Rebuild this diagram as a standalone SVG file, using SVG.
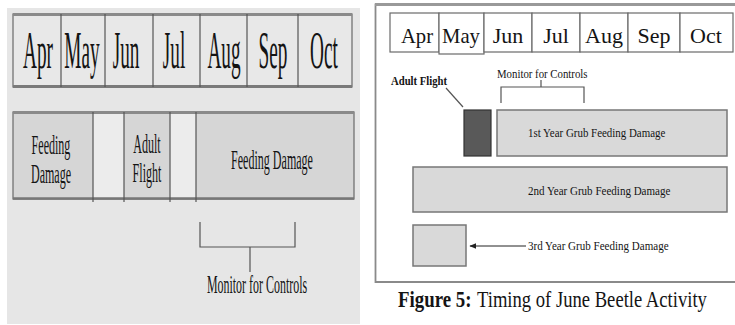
<svg xmlns="http://www.w3.org/2000/svg" width="735" height="325" viewBox="0 0 735 325">
<defs>
<style>
.serif{font-family:"Liberation Serif","Times New Roman",serif;fill:#141414}
.lm{font-size:52px;text-anchor:middle}
.lb{font-size:28px;text-anchor:middle}
.rm{font-size:22px;text-anchor:middle}
.sm{font-size:12px}
.cell{fill:#e8e8e8;stroke:#6a6a6a;stroke-width:1.2}
.rcell{fill:#ffffff;stroke:#6a6a6a;stroke-width:1.2}
.dark{fill:#d6d6d6}
.light{fill:#ececec}
.ln{stroke:#555;stroke-width:1.2;fill:none}
.box{fill:#d9d9d9;stroke:#777;stroke-width:1.5}
</style>
<marker id="ah" viewBox="0 0 10 10" refX="9" refY="5" markerWidth="7" markerHeight="7" orient="auto">
<path d="M0,1 L10,5 L0,9 z" fill="#222"/>
</marker>
</defs>
<rect x="0" y="0" width="735" height="325" fill="#ffffff"/>

<!-- Left panel -->
<g id="left-panel">
<rect x="7" y="8" width="353" height="316" fill="#e6e6e6"/>
</g>
<g id="left-months">
<rect class="cell" x="13" y="14" width="339" height="73"/>
<line x1="13" y1="14.5" x2="352" y2="14.5" stroke="#8a8a8a" stroke-width="3"/>
<line x1="13" y1="86.5" x2="352" y2="86.5" stroke="#7a7a7a" stroke-width="3"/>
<line class="ln" x1="61" y1="14" x2="61" y2="87"/>
<line class="ln" x1="105" y1="14" x2="105" y2="87"/>
<line class="ln" x1="153" y1="14" x2="153" y2="87"/>
<line class="ln" x1="200" y1="14" x2="200" y2="87"/>
<line class="ln" x1="247" y1="14" x2="247" y2="87"/>
<line class="ln" x1="298" y1="14" x2="298" y2="87"/>
<text class="serif lm" transform="translate(38,68) scale(0.37,1)">Apr</text>
<text class="serif lm" transform="translate(82,68) scale(0.37,1)">May</text>
<text class="serif lm" transform="translate(126,68) scale(0.37,1)">Jun</text>
<text class="serif lm" transform="translate(174,68) scale(0.37,1)">Jul</text>
<text class="serif lm" transform="translate(224,68) scale(0.37,1)">Aug</text>
<text class="serif lm" transform="translate(273,68) scale(0.37,1)">Sep</text>
<text class="serif lm" transform="translate(324,68) scale(0.37,1)">Oct</text>
</g>
<g id="left-bar">
<rect class="dark" x="13" y="112" width="80" height="87"/>
<rect class="light" x="93" y="112" width="31" height="87"/>
<rect class="dark" x="124" y="112" width="46" height="87"/>
<rect class="light" x="170" y="112" width="26" height="87"/>
<rect class="dark" x="196" y="112" width="158" height="87"/>
<rect x="13" y="112" width="341" height="87" fill="none" stroke="#6a6a6a" stroke-width="1.2"/>
<line x1="13" y1="112.5" x2="354" y2="112.5" stroke="#8a8a8a" stroke-width="3"/>
<line x1="13" y1="198.5" x2="354" y2="198.5" stroke="#777" stroke-width="2.5"/>
<line class="ln" x1="93" y1="112" x2="93" y2="202"/>
<line class="ln" x1="124" y1="112" x2="124" y2="202"/>
<line class="ln" x1="170" y1="112" x2="170" y2="202"/>
<line class="ln" x1="196" y1="112" x2="196" y2="202"/>
<text class="serif lb" transform="translate(51,154) scale(0.43,1)">Feeding</text>
<text class="serif lb" transform="translate(51,183) scale(0.43,1)">Damage</text>
<text class="serif lb" transform="translate(147,153) scale(0.43,1)">Adult</text>
<text class="serif lb" transform="translate(147,182) scale(0.43,1)">Flight</text>
<text class="serif lb" transform="translate(272,169) scale(0.43,1)">Feeding Damage</text>
</g>
<g id="left-monitor">
<path class="ln" d="M200,222 V247 H295 V222 M250,247 V272"/>
<text class="serif" font-size="26" text-anchor="middle" transform="translate(257,293) scale(0.46,1)">Monitor for Controls</text>
</g>

<!-- Right panel -->
<g id="right-frame">
<path d="M737,4.5 H375.5 V282 H737" fill="none" stroke="#8a8a8a" stroke-width="1.8"/>
<line x1="375" y1="4.5" x2="737" y2="4.5" stroke="#999" stroke-width="3"/>
</g>
<g id="right-months">
<rect class="rcell" x="390" y="13" width="49" height="39"/>
<rect class="rcell" x="439" y="13" width="45" height="41"/>
<rect class="rcell" x="484" y="13" width="48" height="39"/>
<rect class="rcell" x="532" y="13" width="48" height="39"/>
<rect class="rcell" x="580" y="13" width="48" height="39"/>
<rect class="rcell" x="628" y="13" width="52" height="39"/>
<rect class="rcell" x="680" y="13" width="53" height="39"/>
<text class="serif rm" transform="translate(417,43) scale(0.94,1)">Apr</text>
<text class="serif rm" transform="translate(461,43) scale(0.94,1)">May</text>
<text class="serif rm" x="508" y="43">Jun</text>
<text class="serif rm" x="556" y="43">Jul</text>
<text class="serif rm" x="604" y="43">Aug</text>
<text class="serif rm" x="654" y="43">Sep</text>
<text class="serif rm" x="706" y="43">Oct</text>
</g>
<g id="adult-flight">
<text class="serif sm" font-weight="bold" transform="translate(391,85) scale(0.89,1)">Adult Flight</text>
<rect x="464" y="110" width="27" height="46" fill="#595959" stroke="#333" stroke-width="1.2"/>
</g>
<g id="monitor-right">
<text class="serif sm" transform="translate(497,78) scale(0.9,1)">Monitor for Controls</text>
</g>
<g id="year1">
<rect class="box" x="497" y="110" width="230" height="46"/>
<text class="serif sm" transform="translate(528,137) scale(0.91,1)">1st Year Grub Feeding Damage</text>
</g>
<g id="year2">
<rect class="box" x="413" y="167" width="314" height="45"/>
<text class="serif sm" transform="translate(528,195) scale(0.92,1)">2nd Year Grub Feeding Damage</text>
</g>
<g id="year3">
<rect class="box" x="413" y="225" width="53" height="41"/>
<text class="serif sm" transform="translate(528,250) scale(0.92,1)">3rd Year Grub Feeding Damage</text>
</g>
<g id="connectors">
<line class="ln" x1="446" y1="88" x2="463" y2="107"/>
<path class="ln" d="M501,103 V87 H584 V103 M541,87 V80"/>
<line x1="526" y1="246" x2="470" y2="246" stroke="#222" stroke-width="1" marker-end="url(#ah)"/>
</g>
<g id="caption">
<text class="serif" font-size="23" font-weight="bold" transform="translate(398,307) scale(0.82,1)">Figure 5:</text>
<text class="serif" font-size="23" transform="translate(477,307) scale(0.81,1)">Timing of June Beetle Activity</text>
</g>
</svg>
